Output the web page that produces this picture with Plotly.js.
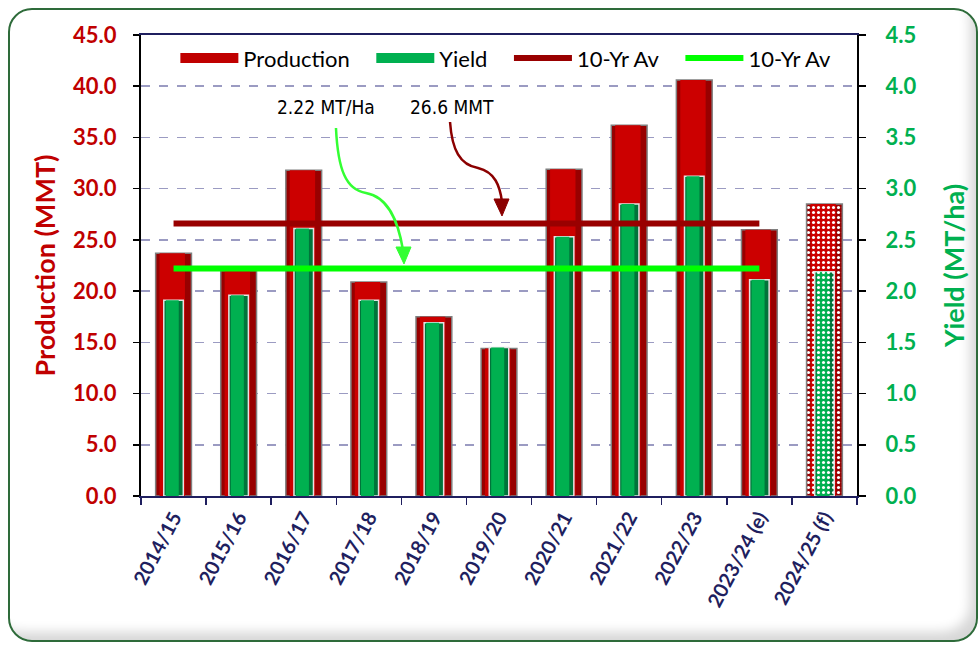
<!DOCTYPE html>
<html>
<head>
<meta charset="utf-8">
<script src="https://cdn.plot.ly/plotly-3.0.1.min.js"></script>
<style>
html,body{margin:0;padding:0;background:#fff;}
#wrap{position:relative;width:980px;height:648px;overflow:hidden;background:#fff;}
#frame{position:absolute;left:8px;top:8px;width:970px;height:634px;border:2px solid #2e6b3a;border-radius:24px;box-sizing:border-box;background:#fff;box-shadow:inset -12px -14px 12px -6px rgba(0,0,0,0.16);}
#chart{position:absolute;left:0;top:0;width:980px;height:648px;}
</style>
</head>
<body>
<div id="wrap"><div id="frame"></div><div id="chart"></div></div>
<script>
// ---- data ----
const categories = ['2014/15','2015/16','2016/17','2017/18','2018/19','2019/20','2020/21','2021/22','2022/23','2023/24 (e)','2024/25 (f)'];
const production = [23.7, 22.0, 31.8, 20.9, 17.5, 14.4, 31.9, 36.2, 40.6, 26.0, 28.5];
const yieldValues = [1.91, 1.96, 2.61, 1.91, 1.69, 1.45, 2.53, 2.85, 3.12, 2.11, 2.19];
const avgCategories = ['2014/15','2015/16','2016/17','2017/18','2018/19','2019/20','2020/21','2021/22','2022/23','2023/24 (e)'];
const avgProduction = [26.6, 26.6, 26.6, 26.6, 26.6, 26.6, 26.6, 26.6, 26.6, 26.6];
const avgYield = [2.22, 2.22, 2.22, 2.22, 2.22, 2.22, 2.22, 2.22, 2.22, 2.22];
const prodTickVals = [0, 5, 10, 15, 20, 25, 30, 35, 40, 45];
const prodTickText = ['0.0','5.0','10.0','15.0','20.0','25.0','30.0','35.0','40.0','45.0'];
const yieldTickVals = [0, 0.5, 1, 1.5, 2, 2.5, 3, 3.5, 4, 4.5];
const yieldTickText = ['0.0','0.5','1.0','1.5','2.0','2.5','3.0','3.5','4.0','4.5'];
const forecastPattern = ['', '', '', '', '', '', '', '', '', '', '.'];
const avgLabels = ['2.22 MT/Ha', '26.6 MMT'];
const seriesNames = ['Production', 'Yield', '10-Yr Av', '10-Yr Av'];

// ---- layout geometry ----
const W = 980, H = 648;
const M = {l: 141, r: 123, t: 35, b: 152};
const PW = W - M.l - M.r, PH = H - M.t - M.b;
function px(x, y) { return ((x - M.l) / PW).toFixed(4) + ',' + ((H - M.b - y) / PH).toFixed(4); }
const GAP = '\u2003'; // legend spacing between entries

const pat = {shape: forecastPattern, fillmode: 'overlay', fgcolor: '#ffffff', fgopacity: 1, size: 5, solidity: 0.3};
const FONT = 'Lato, Open Sans, sans-serif';

const traces = [
  {type: 'bar', showlegend: false, x: categories, y: production, width: 0.55,
   marker: {color: '#980000', line: {color: '#7f7f7f', width: 1.5}, pattern: pat}, hoverinfo: 'skip'},
  {type: 'bar', showlegend: false, x: categories, y: production, width: 0.39, offset: -0.215,
   marker: {color: '#cc0000', line: {width: 0}, pattern: pat}, hoverinfo: 'skip'},
  {type: 'bar', showlegend: false, x: categories, y: yieldValues, yaxis: 'y2', width: 0.30,
   marker: {color: '#00743a', line: {color: '#e4e4e4', width: 1.5}, pattern: pat}, hoverinfo: 'skip'},
  {type: 'bar', showlegend: false, x: categories, y: yieldValues, yaxis: 'y2', width: 0.20, offset: -0.12,
   marker: {color: '#00b050', line: {width: 0}, pattern: pat}, hoverinfo: 'skip'},
  {type: 'scatter', mode: 'lines', name: seriesNames[3], legendrank: 4, x: avgCategories, y: avgYield, yaxis: 'y2',
   line: {color: '#00ff00', width: 6}, hoverinfo: 'skip'},
  {type: 'scatter', mode: 'lines', name: seriesNames[2] + GAP, legendrank: 3, x: avgCategories, y: avgProduction, yaxis: 'y3',
   line: {color: '#990000', width: 6}, hoverinfo: 'skip'},
  // legend-only entries for the bar series (wide swatches as in the reference)
  {type: 'scatter', mode: 'lines', name: seriesNames[0] + GAP, legendrank: 1, x: [null], y: [null],
   line: {color: '#c00000', width: 12}, hoverinfo: 'skip'},
  {type: 'scatter', mode: 'lines', name: seriesNames[1] + GAP, legendrank: 2, x: [null], y: [null],
   line: {color: '#00b050', width: 12}, hoverinfo: 'skip'}
];

const tickFontBase = {family: FONT, size: 22, weight: 'bold'};
const noteFont = {family: 'DejaVu Sans Condensed, DejaVu Sans, sans-serif', size: 19, color: '#000'};

const layout = {
  width: W, height: H,
  margin: M,
  paper_bgcolor: 'rgba(0,0,0,0)',
  plot_bgcolor: '#ffffff',
  barmode: 'overlay',
  showlegend: true,
  legend: {orientation: 'h', x: 0.048, xanchor: 'left', y: 0.995, yanchor: 'top',
           font: {family: FONT, size: 22, color: '#000'},
           bgcolor: 'rgba(255,255,255,0)', itemwidth: 58, traceorder: 'normal'},
  xaxis: {type: 'category', range: [-0.5, 10.5], tickson: 'boundaries', ticks: 'outside', ticklen: 7,
          tickcolor: '#1f1f5f', tickwidth: 1.5, showline: true, linecolor: '#1f1f5f', linewidth: 2, mirror: true,
          tickangle: -62, tickfont: {family: FONT, size: 20, color: '#1f1f5f', weight: 'bold'},
          showgrid: false, zeroline: false, fixedrange: true},
  yaxis: {range: [0, 45], tickvals: prodTickVals, ticktext: prodTickText, showline: true, linecolor: '#000', linewidth: 2,
          ticks: 'outside', ticklen: 6, tickcolor: '#000', tickwidth: 1.5, ticklabelstandoff: 12,
          tickfont: Object.assign({color: '#c00000'}, tickFontBase),
          showgrid: true, gridcolor: '#9b9bc2', griddash: 'dash', gridwidth: 1.5, zeroline: false,
          title: {text: 'Production (MMT)', standoff: 10, font: {family: FONT, size: 27, color: '#c00000', weight: 'bold'}},
          fixedrange: true},
  yaxis2: {overlaying: 'y', side: 'right', range: [0, 4.5], tickvals: yieldTickVals, ticktext: yieldTickText,
           showline: true, linecolor: '#000', linewidth: 2, ticks: 'outside', ticklen: 7, tickcolor: '#000', tickwidth: 1.5,
           ticklabelstandoff: 15,
           tickfont: Object.assign({color: '#00b050'}, tickFontBase), showgrid: false, zeroline: false,
           title: {text: 'Yield (MT/ha)', standoff: 30, font: {family: FONT, size: 27, color: '#00b050', weight: 'bold'}},
           fixedrange: true},
  yaxis3: {overlaying: 'y', range: [0, 45], visible: false, fixedrange: true},
  annotations: [
    {xref: 'paper', yref: 'paper', x: (326 - M.l) / PW, y: (H - M.b - 107) / PH, xanchor: 'center', yanchor: 'middle',
     text: avgLabels[0], showarrow: false, font: noteFont},
    {xref: 'paper', yref: 'paper', x: (452 - M.l) / PW, y: (H - M.b - 107) / PH, xanchor: 'center', yanchor: 'middle',
     text: avgLabels[1], showarrow: false, font: noteFont}
  ],
  shapes: [
    {type: 'path', xref: 'paper', yref: 'paper', path: 'M' + px(336,128) + ' C' + px(338,170) + ' ' + px(346,190) + ' ' + px(366,193) + ' C' + px(388,197) + ' ' + px(398,220) + ' ' + px(403,250),
     line: {color: '#33ff33', width: 2.5}},
    {type: 'path', xref: 'paper', yref: 'paper', path: 'M' + px(396,247) + ' L' + px(411,247) + ' L' + px(404,264) + ' Z',
     fillcolor: '#33ff33', line: {color: '#33ff33', width: 1}},
    {type: 'path', xref: 'paper', yref: 'paper', path: 'M' + px(450,122) + ' C' + px(452,150) + ' ' + px(460,165) + ' ' + px(478,168) + ' C' + px(495,172) + ' ' + px(500,186) + ' ' + px(502,202),
     line: {color: '#8b0000', width: 2.5}},
    {type: 'path', xref: 'paper', yref: 'paper', path: 'M' + px(494,199) + ' L' + px(509,199) + ' L' + px(502,216) + ' Z',
     fillcolor: '#8b0000', line: {color: '#8b0000', width: 1}}
  ]
};

Plotly.newPlot('chart', traces, layout, {displayModeBar: false, staticPlot: true});
</script>
</body>
</html>
